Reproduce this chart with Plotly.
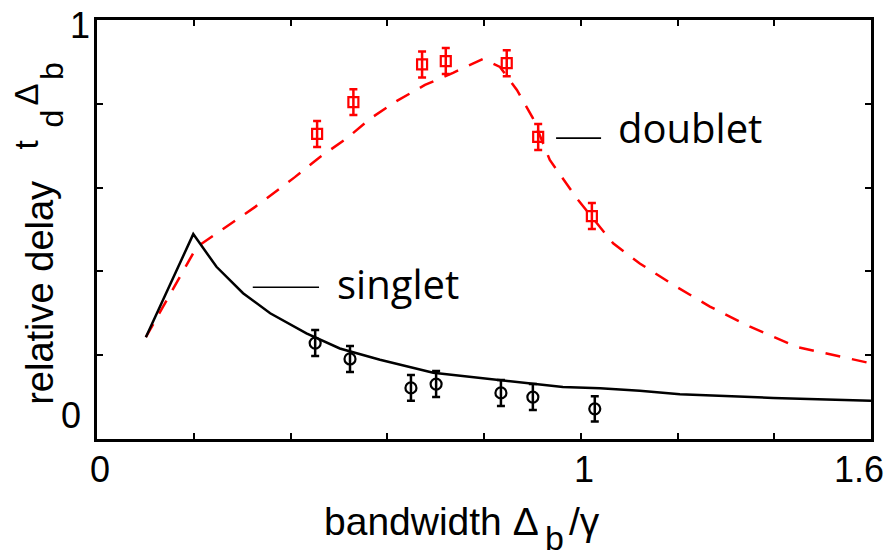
import plotly.graph_objects as go

# ---- data ----
singlet_curve_x = [0.101, 0.199, 0.247, 0.302, 0.358, 0.433, 0.502, 0.585, 0.695, 0.827, 0.963, 1.04, 1.122, 1.205, 1.398, 1.6]
singlet_curve_y = [0.243, 0.489, 0.411, 0.348, 0.300, 0.252, 0.216, 0.189, 0.158, 0.141, 0.124, 0.121, 0.115, 0.107, 0.098, 0.091]

doublet_curve_x = [0.101, 0.206, 0.327, 0.409, 0.461, 0.517, 0.564, 0.620, 0.678, 0.736, 0.798, 0.833, 0.868, 0.901, 0.936, 0.992, 1.067, 1.122, 1.191, 1.267, 1.350, 1.446, 1.598]
doublet_curve_y = [0.243, 0.458, 0.554, 0.625, 0.673, 0.718, 0.764, 0.807, 0.845, 0.874, 0.907, 0.888, 0.833, 0.766, 0.666, 0.574, 0.467, 0.419, 0.368, 0.316, 0.268, 0.220, 0.181]

singlet_pts_x = [0.451, 0.523, 0.649, 0.701, 0.835, 0.901, 1.029]
singlet_pts_y = [0.229, 0.191, 0.122, 0.131, 0.110, 0.100, 0.072]
singlet_err = [0.031, 0.031, 0.031, 0.031, 0.031, 0.031, 0.030]

doublet_pts_x = [0.455, 0.530, 0.672, 0.721, 0.847, 0.912, 1.023]
doublet_pts_y = [0.728, 0.804, 0.894, 0.902, 0.897, 0.721, 0.532]
doublet_err = [0.031, 0.031, 0.031, 0.031, 0.031, 0.031, 0.031]

x_ticks = [0, 0.2, 0.4, 0.6, 0.8, 1.0, 1.2, 1.4, 1.6]
y_ticks = [0, 0.2, 0.4, 0.6, 0.8, 1.0]
x_tick_labels = ["0", "1", "1.6"]
x_tick_label_pos = [0, 1, 1.6]
y_tick_labels = ["0", "1"]
y_tick_label_pos = [0.055, 0.988]

AXFONT = "Liberation Sans, Arial, sans-serif"
LBLFONT = "Open Sans, sans-serif"

# plot-area geometry in pixels (for placing text pieces)
L, R, T, B = 97, 17, 20, 119
W, H = 888, 558
PW, PH = W - L - R, H - T - B


def px_x(px):
    return (px - L) / PW


def px_y(py):
    return (H - B - py) / PH


fig = go.Figure()

fig.add_trace(go.Scatter(x=doublet_curve_x, y=doublet_curve_y, mode="lines",
                         line=dict(color="#ff0000", width=2.5, dash="15px,12px")))
fig.add_trace(go.Scatter(x=singlet_curve_x, y=singlet_curve_y, mode="lines",
                         line=dict(color="black", width=2.5)))
fig.add_trace(go.Scatter(x=doublet_pts_x, y=doublet_pts_y, mode="markers",
                         marker=dict(symbol="square-open", size=10, color="#ff0000", line=dict(width=2.2, color="#ff0000")),
                         error_y=dict(type="data", array=doublet_err, color="#ff0000", thickness=2.5, width=4)))
fig.add_trace(go.Scatter(x=singlet_pts_x, y=singlet_pts_y, mode="markers",
                         marker=dict(symbol="circle-open", size=11, color="black", line=dict(width=2.2, color="black")),
                         error_y=dict(type="data", array=singlet_err, color="black", thickness=2.5, width=4)))

axis_common = dict(showgrid=False, zeroline=False, showline=True, linewidth=3, linecolor="black",
                   mirror="ticks", ticks="inside", ticklen=6, tickwidth=2, tickcolor="black",
                   showticklabels=False)


def txt(text, x, y, size, xref="paper", yref="paper", xanchor="center", yanchor="middle",
        family=AXFONT, angle=0, xshift=0, yshift=0):
    return dict(text=text, x=x, y=y, xref=xref, yref=yref, xanchor=xanchor, yanchor=yanchor,
                showarrow=False, textangle=angle, xshift=xshift, yshift=yshift,
                font=dict(family=family, size=size, color="black"))


ann = []
# x tick labels
for xv, t in zip(x_tick_label_pos, x_tick_labels):
    if t == "1.6":
        ann.append(txt(t, xv, px_y(469), 36, xref="x", xanchor="right", xshift=15))
    else:
        ann.append(txt(t, xv, px_y(469), 36, xref="x", xshift=3))
# y tick labels
ann.append(txt(y_tick_labels[0], px_x(71), y_tick_label_pos[0], 36, yref="y"))
ann.append(txt(y_tick_labels[1], px_x(80), y_tick_label_pos[1], 36, yref="y"))

# x axis title (with lowered subscript b)
ann.append(txt("bandwidth Δ", px_x(322), px_y(521.5), 39, xanchor="left"))
ann.append(txt("b", px_x(542.5), px_y(538), 34, xanchor="left"))
ann.append(txt("/γ", px_x(567), px_y(521.5), 39, xanchor="left"))

# y axis title pieces (rotated)
ann.append(txt("relative delay", px_x(39.8), px_y(293), 38, angle=-90))
ann.append(txt("t", px_x(25.6), px_y(145), 33, angle=-90))
ann.append(txt("d", px_x(51.9), px_y(118.5), 32, angle=-90))
ann.append(txt("Δ", px_x(25.6), px_y(95), 33, angle=-90))
ann.append(txt("b", px_x(51.9), px_y(71), 32, angle=-90))

# curve labels
ann.append(txt("doublet", 1.073, 0.743, 40, xref="x", yref="y", xanchor="left", family=LBLFONT))
ann.append(txt("singlet", 0.492, 0.371, 40, xref="x", yref="y", xanchor="left", family=LBLFONT))

fig.update_layout(
    width=W, height=H,
    margin=dict(l=L, r=R, t=T, b=B),
    paper_bgcolor="white", plot_bgcolor="white",
    showlegend=False,
    xaxis=dict(range=[0, 1.6], tickvals=x_ticks, **axis_common),
    yaxis=dict(range=[0, 1], tickvals=y_ticks, **axis_common),
    annotations=ann,
    shapes=[
        dict(type="line", x0=0.949, x1=1.042, y0=0.718, y1=0.718, xref="x", yref="y",
             line=dict(color="black", width=1.6)),
        dict(type="line", x0=0.322, x1=0.459, y0=0.362, y1=0.362, xref="x", yref="y",
             line=dict(color="black", width=1.6)),
    ],
)

fig.write_html("out.html")
